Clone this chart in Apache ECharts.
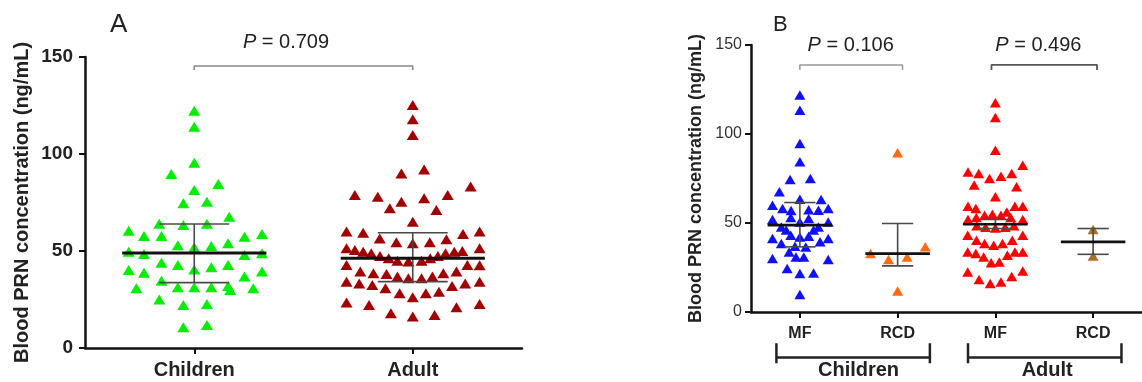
<!DOCTYPE html>
<html lang="en">
<head>
    <meta charset="utf-8">
    <title>PRN</title>
    <script src="https://cdn.jsdelivr.net/npm/echarts@6/dist/echarts.min.js"></script>
    <style>
        html, body { margin: 0; padding: 0; background: #fff; }
    </style>
</head>
<body>
    <div id="main" style="width: 1142px;height:382px;"></div>
    <script>
    // panel A groups / panel B groups
    var groupsA = ['Children', 'Adult'];
    var groupsB = ['MF', 'RCD', 'MF', 'RCD'];
    var familiesB = ['Children', 'Adult'];

    // points: [offset inside the column, concentration]
    var childrenA = [[0,122.3],[0,114],[0,95.5],[-0.105,89.7],[0.11,84.5],[0,81.4],[-0.05,74.6],[0.058,75.4],
        [0.16,67.7],[-0.16,64],[-0.05,63.4],[0.058,64],[-0.30,60.5],[-0.23,57.7],[-0.15,57.7],[0.23,57.4],[0.31,58.8],
        [-0.30,49.6],[-0.23,48.5],[-0.075,53],[0,51.9],[0.078,52.6],[0.155,54],[0.23,47.9],[0.31,48.8],
        [-0.15,44],[-0.075,42.8],[0,40.5],[0.078,41.6],[0.155,42.8],[-0.30,40.2],[-0.23,38.8],[0.23,36.8],[0.31,39.4],
        [-0.15,34.7],[-0.265,30.8],[-0.075,31.3],[0,31.3],[0.078,31.3],[0.155,32],[0.165,29.9],[0.27,30.8],
        [-0.16,25],[-0.05,22.2],[0.058,22.7],[-0.05,10.7],[0.058,11.8]];
    var adultA = [[0,125.3],[0,117.9],[0,109.8],[-0.052,90],[0.052,92],[-0.265,78.9],[-0.16,78],[-0.052,75.4],
        [0.052,77.2],[0.16,78.9],[0.265,83.2],[-0.105,72],[0.108,71.1],[0,65.1],
        [-0.303,60],[-0.227,59.4],[-0.151,56.5],[-0.075,54.5],[0,54],[0.078,54.5],[0.154,56],[0.23,58.8],[0.306,60],
        [-0.303,51.4],[-0.265,50.5],[-0.227,49.6],[-0.19,48.8],[-0.15,47.4],[-0.11,46.2],[-0.07,45],[-0.02,44.6],
        [0.04,45],[0.08,46.2],[0.115,47.4],[0.15,48.8],[0.19,49.6],[0.227,50],[0.306,51.4],
        [-0.303,42.8],[-0.24,39.4],[-0.18,38.5],[-0.12,38.1],[-0.07,36.8],[-0.02,35.9],[0.04,35.9],[0.09,36.8],
        [0.14,38.5],[0.2,39.4],[0.25,42.8],[0.306,42.6],
        [-0.303,34.2],[-0.245,33.3],[-0.185,32.5],[-0.125,30.8],[-0.06,28.2],[0,26.1],[0.06,28.2],[0.12,29],
        [0.18,32],[0.24,33.3],[0.306,34.2],
        [-0.303,23.4],[-0.2,22.2],[-0.1,17.9],[0,16.2],[0.1,17],[0.2,21],[0.306,22.7]];

    var childrenMF = [[0,121.9],[0,113.4],[0,94.7],[0,84.4],[-0.10,74.5],[0.107,75],[-0.21,67.5],[0,63.4],
        [-0.28,60],[0.217,63.2],[-0.177,58.2],[0.19,57.2],[0.29,58.2],[-0.09,57],[0.09,57.5],
        [-0.28,52],[-0.093,53.1],[0,50.6],[0.09,52.5],[0.29,50.6],[-0.19,47.8],[0.19,47.8],[-0.14,46],[0.14,46],
        [-0.28,41.3],[-0.093,43.1],[0,42.2],[0.09,42.6],[0.207,39.4],[0.29,41.3],[-0.19,38.5],[-0.05,37],[0.06,36.5],
        [-0.11,33.7],[-0.04,30.9],[0.04,30.9],[-0.28,30],[0.29,29.5],[-0.13,24.4],[0,21.6],[0.14,21.9],[0,9.8]];
    var childrenRCD = [[0,89.4],[-0.277,32.8],[-0.093,29.5],[0.097,30.9],[0.283,36.6],[0,11.8]];
    var adultMF = [[0,117.6],[0,109.3],[0,90.9],[-0.28,78.7],[-0.17,77.8],[-0.06,75],[0.057,76.3],[0.167,77.8],
        [0.28,82.5],[-0.217,71.3],[0.217,70.3],[0,64.7],[-0.28,59.4],[-0.2,58.2],[0.117,56.2],[0.2,59.4],[0.28,59.4],
        [-0.28,52],[-0.195,53.1],[-0.11,54.4],[-0.03,54.9],[0.057,54.4],[0.157,53.1],[0.28,52],
        [-0.19,48.4],[-0.1,47.6],[0,47.2],[0.1,47.6],[0.19,48.4],
        [-0.283,43.1],[-0.193,40.3],[-0.11,38.5],[-0.017,37.5],[0.073,38.5],[0.173,40.3],[0.28,43.1],
        [-0.283,33.7],[-0.2,32.8],[-0.12,30.9],[-0.043,27.6],[0.04,28.1],[0.123,31.9],[0.2,33.7],[0.28,33.7],
        [-0.283,22.5],[-0.167,18.2],[-0.053,16],[0.057,16.9],[0.167,20],[0.28,23]];
    var adultRCD = [[0,46.3],[0,31.5]];

    // [median, lower, upper]
    var statsA = [[49.0,33.7,63.9],[46.3,34.2,59.4]];
    var statsB = [[48.8,36.6,61.5],[32.8,25.9,49.7],[49.3,46.9,52.0],[39.4,32.4,46.9]];

    var pA = ['0.709'];
    var pB = ['0.106', '0.496'];

    var FONT = 'Liberation Sans, Arial, sans-serif';

    function place(points, col) {
        return points.map(function (p) { return [col + p[0], p[1]]; });
    }

    function renderBar(params, api) {
        var x = api.value(0), med = api.value(1), lo = api.value(2), hi = api.value(3);
        var medW = api.value(4);
        function c(dx, v) { return api.coord([x + dx, v]); }
        var m1 = c(-0.33, med), m2 = c(0.33, med);
        var l1 = c(-0.16, lo), l2 = c(0.16, lo);
        var h1 = c(-0.16, hi), h2 = c(0.16, hi);
        var gray = { stroke: '#4a4a4a', lineWidth: 1.6 };
        return {
            type: 'group',
            children: [
                { type: 'line', shape: { x1: h1[0], y1: h1[1], x2: h2[0], y2: h2[1] }, style: gray },
                { type: 'line', shape: { x1: l1[0], y1: l1[1], x2: l2[0], y2: l2[1] }, style: gray },
                { type: 'line', shape: { x1: c(0, lo)[0], y1: c(0, lo)[1], x2: c(0, hi)[0], y2: c(0, hi)[1] }, style: gray },
                { type: 'line', shape: { x1: m1[0], y1: m1[1], x2: m2[0], y2: m2[1] }, style: { stroke: '#111', lineWidth: medW } }
            ]
        };
    }

    function dots(name, data, color, idx, size) {
        return {
            name: name, type: 'scatter', xAxisIndex: idx, yAxisIndex: idx,
            data: data, symbol: 'triangle', symbolSize: size,
            itemStyle: { color: color, opacity: 1 }, z: 2
        };
    }

    function bracket(x1, x2, yTop, yEnd, idx, color, w) {
        return {
            type: 'line', xAxisIndex: idx, yAxisIndex: idx, clip: false, silent: true,
            symbol: 'none', z: 3,
            data: [[x1, yEnd], [x1, yTop], [x2, yTop], [x2, yEnd]],
            lineStyle: { color: color, width: w }
        };
    }

    function groupBracket(x1, x2, idx) {
        return {
            type: 'line', xAxisIndex: idx, yAxisIndex: idx, clip: false, silent: true,
            symbol: 'none', z: 3,
            data: [[x1, -17.6], [x1, -28.8], [x1, -25.5], [x2, -25.5], [x2, -17.6], [x2, -28.8]],
            lineStyle: { color: '#222', width: 2.5 }
        };
    }

    var myChart = echarts.init(document.getElementById('main'));

    var axisLineStyle = { color: '#111', width: 2.5 };

    var option = {
        animation: false,
        textStyle: { fontFamily: FONT },
        grid: [
            { left: 85, top: 57, width: 437, height: 291 },
            { left: 751, top: 45, width: 400, height: 267 }
        ],
        xAxis: [
            {
                gridIndex: 0, type: 'value', min: -0.5, max: 1.5,
                splitLine: { show: false },
                axisLine: { onZero: false, lineStyle: axisLineStyle },
                axisTick: { customValues: [0, 1], length: 6, lineStyle: { color: '#111', width: 2 } },
                axisLabel: {
                    customValues: [0, 1], margin: 12, color: '#222', fontWeight: 'bold', fontSize: 20, fontFamily: FONT,
                    formatter: function (v) { return groupsA[Math.round(v)]; }
                }
            },
            {
                gridIndex: 1, type: 'value', min: -0.5, max: 3.5,
                splitLine: { show: false },
                axisLine: { onZero: false, lineStyle: axisLineStyle },
                axisTick: { customValues: [0, 1, 2, 3], length: 6, lineStyle: { color: '#111', width: 2 } },
                axisLabel: {
                    customValues: [0, 1, 2, 3], margin: 14, color: '#222', fontWeight: 'bold', fontSize: 16, fontFamily: FONT,
                    formatter: function (v) { return groupsB[Math.round(v)]; }
                }
            }
        ],
        yAxis: [
            {
                gridIndex: 0, type: 'value', min: 0, max: 150, interval: 50,
                splitLine: { show: false },
                axisLine: { show: true, onZero: false, lineStyle: axisLineStyle },
                axisTick: { show: true, length: 6, lineStyle: { color: '#111', width: 2 } },
                axisLabel: { margin: 12, color: '#222', fontWeight: 'bold', fontSize: 19, fontFamily: FONT },
                name: 'Blood PRN concentration (ng/mL)', nameLocation: 'middle', nameGap: 53,
                nameTextStyle: { color: '#222', fontWeight: 'bold', fontSize: 20, fontFamily: FONT }
            },
            {
                gridIndex: 1, type: 'value', min: 0, max: 150, interval: 50,
                splitLine: { show: false },
                axisLine: { show: true, onZero: false, lineStyle: axisLineStyle },
                axisTick: { show: true, length: 6, lineStyle: { color: '#111', width: 2 } },
                axisLabel: { margin: 9, color: '#333', fontSize: 16, fontFamily: FONT },
                name: 'Blood PRN concentration (ng/mL)', nameLocation: 'middle', nameGap: 46,
                nameTextStyle: { color: '#222', fontWeight: 'bold', fontSize: 18, fontFamily: FONT }
            }
        ],
        series: [
            dots('Children', place(childrenA, 0), '#00ee00', 0, [12, 10]),
            dots('Adult', place(adultA, 1), '#a00000', 0, [12, 10]),
            {
                type: 'custom', xAxisIndex: 0, yAxisIndex: 0, z: 5, clip: false, silent: true,
                renderItem: renderBar,
                data: statsA.map(function (s, i) { return [i, s[0], s[1], s[2], 3]; })
            },
            bracket(0, 1, 145.4, 143.3, 0, '#888', 1.5),

            dots('Children MF', place(childrenMF, 0), '#1010ff', 1, [11, 9.5]),
            dots('Children RCD', place(childrenRCD, 1), '#ff6a10', 1, [11, 9.5]),
            dots('Adult MF', place(adultMF, 2), '#ff0000', 1, [11, 9.5]),
            dots('Adult RCD', place(adultRCD, 3), '#a8722a', 1, [11, 9.5]),
            {
                type: 'custom', xAxisIndex: 1, yAxisIndex: 1, z: 5, clip: false, silent: true,
                renderItem: renderBar,
                data: statsB.map(function (s, i) { return [i, s[0], s[1], s[2], 2.6]; })
            },
            bracket(0, 1.05, 138.8, 136, 1, '#999', 1.5),
            bracket(1.96, 3.04, 138.8, 136, 1, '#555', 1.8),
            groupBracket(-0.24, 1.33, 1),
            groupBracket(1.72, 3.29, 1)
        ]
    };
    myChart.setOption(option);

    // texts placed through the grids' scales
    function textAt(grid, x, y, text, style) {
        var p = myChart.convertToPixel({ gridIndex: grid }, [x, y]);
        return {
            type: 'text', x: p[0], y: p[1], z: 10,
            style: Object.assign({ text: text, fill: '#222', fontFamily: FONT, align: 'center', verticalAlign: 'middle' }, style)
        };
    }
    function pText(grid, x, y, p) {
        return textAt(grid, x, y, '{i|P} = ' + p, {
            fontSize: 20,
            rich: { i: { fontStyle: 'italic', fontSize: 20, fontFamily: FONT, fill: '#222' } }
        });
    }
    var bold20 = { fontSize: 20, fontWeight: 'bold' };

    myChart.setOption({
        graphic: [
            { type: 'text', left: 110, top: 12, style: { text: 'A', fontSize: 26, fontFamily: FONT, fill: '#222' } },
            { type: 'text', left: 773, top: 14, style: { text: 'B', fontSize: 22, fontFamily: FONT, fill: '#222' } },
            pText(0, 0.42, 157.5, pA[0]),
            pText(1, 0.52, 150, pB[0]),
            pText(1, 2.44, 150, pB[1]),
            textAt(1, 0.6, -33, familiesB[0], bold20),
            textAt(1, 2.53, -33, familiesB[1], bold20)
        ]
    });
    </script>
</body>
</html>
